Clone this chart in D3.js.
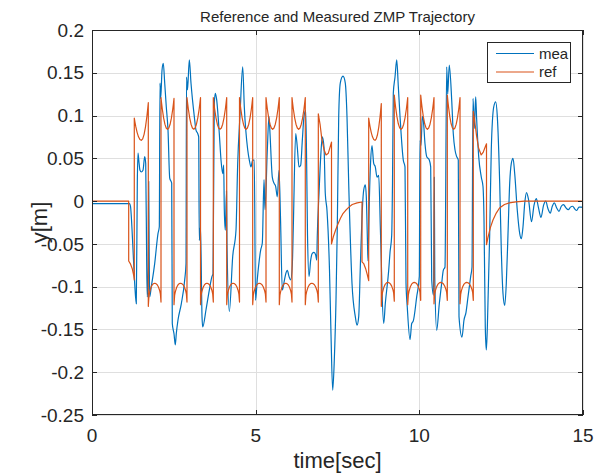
<!DOCTYPE html>
<html>
<head>
<meta charset="utf-8">
<script src="https://cdn.jsdelivr.net/npm/d3@7"></script>
<style>
  body { margin: 0; background: #fff; }
  text { font-family: "Liberation Sans", Arial, Helvetica, sans-serif; fill: #262626; }
</style>
</head>
<body>
<svg id="chart" width="607" height="475"></svg>
<script>
// ---- axis ticks ----
const xTicks = [0, 5, 10, 15];
const xTickLabels = ["0", "5", "10", "15"];
const yTicks = [-0.25, -0.2, -0.15, -0.1, -0.05, 0, 0.05, 0.1, 0.15, 0.2];
const yTickLabels = ["-0.25", "-0.2", "-0.15", "-0.1", "-0.05", "0", "0.05", "0.1", "0.15", "0.2"];

// ---- reference ZMP ----
// standing still before the first walk
const refStart = [[0, 0], [1.121, 0]];
// shift onto the first support foot
const refLead1 = [[1.121, -0.070], [1.17, -0.073], [1.23, -0.079], [1.275, -0.087], [1.292, -0.092]];
// single-support steps: [tStart, tEnd, yStart, yMid, yEnd, kind]  (U = left foot dip, A = right foot arch)
const refWalk1 = [
  [1.292, 1.720, 0.097, 0.071, 0.115, "U"],
  [1.720, 2.108, -0.123, -0.096, -0.118, "A"],
  [2.108, 2.505, 0.121, 0.084, 0.120, "U"],
  [2.505, 2.902, -0.121, -0.096, -0.118, "A"],
  [2.902, 3.315, 0.121, 0.084, 0.121, "U"],
  [3.315, 3.706, -0.121, -0.096, -0.118, "A"],
  [3.706, 4.115, 0.121, 0.084, 0.121, "U"],
  [4.115, 4.506, -0.121, -0.096, -0.118, "A"],
  [4.506, 4.909, 0.121, 0.084, 0.121, "U"],
  [4.909, 5.316, -0.121, -0.096, -0.118, "A"],
  [5.316, 5.722, 0.121, 0.084, 0.121, "U"],
  [5.722, 6.110, -0.121, -0.096, -0.118, "A"],
  [6.110, 6.516, 0.121, 0.084, 0.121, "U"],
  [6.516, 6.914, -0.121, -0.096, -0.118, "A"]
];
const refHalf1 = [[6.914, 0.102], [6.97, 0.089], [7.02, 0.073], [7.09, 0.060], [7.15, 0.054], [7.22, 0.056], [7.317, 0.069]];
const refDecay1 = [[7.317, -0.050], [7.37, -0.042], [7.44, -0.034], [7.51, -0.027], [7.59, -0.020], [7.66, -0.015],
                   [7.745, -0.011], [7.85, -0.007], [7.95, -0.004], [8.1, -0.002], [8.249, -0.001]];
const refLead2 = [[8.249, -0.071], [8.30, -0.073], [8.36, -0.079], [8.41, -0.086], [8.453, -0.093]];
const refWalk2 = [
  [8.453, 8.838, 0.097, 0.071, 0.114, "U"],
  [8.838, 9.235, -0.123, -0.095, -0.117, "A"],
  [9.235, 9.645, 0.124, 0.084, 0.121, "U"],
  [9.645, 10.042, -0.121, -0.095, -0.116, "A"],
  [10.042, 10.448, 0.124, 0.084, 0.121, "U"],
  [10.448, 10.855, -0.120, -0.095, -0.116, "A"],
  [10.855, 11.243, 0.124, 0.084, 0.121, "U"],
  [11.243, 11.649, -0.120, -0.095, -0.116, "A"]
];
const refHalf2 = [[11.649, 0.105], [11.70, 0.091], [11.75, 0.076], [11.81, 0.062], [11.89, 0.054], [11.95, 0.057], [12.0, 0.062], [12.052, 0.067]];
const refDecay2 = [[12.052, -0.051], [12.10, -0.042], [12.17, -0.031], [12.25, -0.022], [12.35, -0.014], [12.45, -0.008],
                   [12.6, -0.004], [12.75, -0.002], [12.95, -0.001], [13.2, 0], [15, 0]];
// profile of one support phase: time fraction and how far the value sits from its mid point
const stepFrac    = [0, 0.05, 0.1, 0.2, 0.3, 0.4, 0.5, 0.6, 0.7, 0.8, 0.9, 0.95, 1];
const uWeight     = [1, 0.81, 0.64, 0.36, 0.16, 0.04, 0, 0.04, 0.16, 0.36, 0.64, 0.81, 1];
const archWeight  = [1, 0.56, 0.40, 0.20, 0.08, 0.02, 0, 0.02, 0.08, 0.20, 0.40, 0.56, 1];

// ---- measured ZMP [time s, y m] ----
const mea = [
  [0.000,-0.003],[1.146,-0.003],[1.176,-0.006],[1.201,-0.018],[1.253,-0.057],[1.304,-0.096],[1.353,-0.120],
  [1.384,0.021],[1.405,0.056],[1.436,0.045],[1.466,0.036],[1.506,0.034],[1.558,0.036],[1.610,0.052],[1.641,0.044],
  [1.671,-0.073],[1.689,-0.112],[1.717,-0.080],[1.732,0.023],[1.747,-0.060],[1.763,-0.112],[1.812,-0.100],
  [1.915,-0.073],[2.016,-0.038],[2.056,-0.030],[2.077,0.138],[2.099,0.120],[2.139,0.153],[2.178,0.161],
  [2.221,0.138],[2.270,0.110],[2.322,0.083],[2.374,0.027],[2.435,0.021],[2.453,-0.143],[2.505,-0.155],
  [2.545,-0.168],[2.575,-0.155],[2.627,-0.139],[2.728,-0.120],[2.832,-0.092],[2.872,-0.073],[2.887,0.145],
  [2.917,0.130],[2.973,0.165],[3.024,0.138],[3.125,0.099],[3.177,0.083],[3.229,0.079],[3.259,0.075],
  [3.278,-0.046],[3.315,-0.030],[3.361,-0.135],[3.382,-0.147],[3.483,-0.127],[3.584,-0.104],[3.666,-0.088],
  [3.697,-0.085],[3.736,0.114],[3.767,0.126],[3.803,0.120],[3.889,0.079],[3.941,0.048],[3.993,0.032],
  [4.023,0.042],[4.042,-0.010],[4.072,-0.034],[4.109,0.012],[4.124,-0.050],[4.195,-0.129],[4.298,-0.065],
  [4.399,-0.034],[4.451,0.044],[4.521,0.100],[4.604,0.157],[4.653,0.110],[4.757,0.060],[4.806,0.048],
  [4.857,0.040],[4.909,0.048],[4.958,0.048],[4.995,-0.116],[5.048,-0.092],[5.154,-0.057],[5.203,-0.049],
  [5.255,0.025],[5.285,-0.010],[5.356,0.060],[5.407,0.099],[5.438,0.079],[5.508,0.028],[5.560,0.021],
  [5.612,0.017],[5.661,0.005],[5.713,0.036],[5.759,-0.020],[5.814,-0.104],[5.866,-0.095],[5.918,-0.085],
  [5.967,-0.081],[6.018,-0.088],[6.070,-0.092],[6.119,-0.075],[6.150,-0.030],[6.223,0.079],[6.272,0.063],
  [6.324,0.040],[6.376,0.042],[6.425,0.071],[6.477,0.099],[6.529,0.106],[6.559,0.040],[6.584,-0.040],
  [6.630,-0.088],[6.681,-0.069],[6.730,-0.061],[6.782,-0.060],[6.834,-0.063],[6.865,-0.069],[6.883,-0.040],
  [6.935,0.009],[6.987,0.052],[7.036,0.075],[7.088,0.063],[7.127,0.009],[7.179,-0.011],[7.255,-0.080],
  [7.301,-0.155],[7.353,-0.221],[7.402,-0.186],[7.454,-0.116],[7.494,-0.030],[7.537,0.099],[7.585,0.138],
  [7.668,0.146],[7.738,0.138],[7.790,0.099],[7.842,0.021],[7.943,-0.096],[8.044,-0.135],[8.096,-0.145],
  [8.148,-0.135],[8.197,-0.077],[8.249,-0.018],[8.301,0.013],[8.350,0.019],[8.380,0.005],[8.417,-0.050],
  [8.432,-0.070],[8.472,0.000],[8.514,0.048],[8.554,0.065],[8.606,0.044],[8.655,0.040],[8.707,0.028],
  [8.759,0.030],[8.808,-0.030],[8.838,-0.070],[8.860,-0.104],[8.912,-0.143],[8.960,-0.120],[9.064,-0.081],
  [9.104,-0.060],[9.156,-0.040],[9.180,0.020],[9.205,0.126],[9.257,0.145],[9.309,0.165],[9.358,0.134],
  [9.410,0.099],[9.510,0.048],[9.562,0.040],[9.593,-0.096],[9.632,-0.124],[9.715,-0.162],[9.767,-0.143],
  [9.816,-0.140],[9.919,-0.112],[9.999,-0.088],[10.020,0.071],[10.051,0.065],[10.091,0.099],[10.121,0.095],
  [10.173,0.067],[10.225,0.052],[10.304,0.048],[10.347,0.040],[10.378,-0.092],[10.433,-0.110],[10.457,0.028],
  [10.472,-0.090],[10.530,-0.151],[10.610,-0.120],[10.683,-0.096],[10.732,-0.081],[10.784,-0.077],
  [10.836,0.157],[10.866,0.125],[10.915,0.159],[10.989,0.118],[11.037,0.079],[11.089,0.060],[11.141,0.052],
  [11.190,0.048],[11.212,-0.135],[11.303,-0.159],[11.364,-0.139],[11.426,-0.130],[11.487,-0.112],
  [11.569,-0.088],[11.609,-0.077],[11.640,0.120],[11.679,0.085],[11.722,0.122],[11.752,0.095],[11.814,0.052],
  [11.893,0.028],[11.945,0.017],[11.975,-0.020],[12.015,-0.147],[12.046,-0.174],[12.076,-0.150],
  [12.150,-0.038],[12.198,0.060],[12.272,0.110],[12.333,0.116],[12.382,0.099],[12.455,0.021],[12.504,-0.057],
  [12.556,-0.108],[12.608,-0.122],[12.657,-0.096],[12.709,-0.038],[12.761,0.021],[12.810,0.044],[12.862,0.050],
  [12.914,0.032],[12.993,-0.011],[13.067,-0.038],[13.115,-0.044],[13.167,-0.030],[13.219,-0.003],
  [13.274,0.010],[13.335,0.002],[13.427,-0.024],[13.503,-0.005],[13.574,0.003],[13.641,-0.008],
  [13.717,-0.019],[13.794,-0.005],[13.861,0.000],[13.931,-0.009],[14.001,-0.014],[14.062,-0.006],
  [14.123,-0.002],[14.197,-0.008],[14.267,-0.012],[14.337,-0.006],[14.404,-0.004],[14.481,-0.008],
  [14.551,-0.010],[14.618,-0.007],[14.685,-0.006],[14.746,-0.009],[14.807,-0.011],[14.878,-0.007],
  [14.954,-0.007],[15.000,-0.008]
];

const seriesNames = ["mea", "ref"];
const seriesColors = ["#0072BD", "#D95319"];

// ---- assemble the reference path ----
function stepPoints(step) {
  const [t0, t1, ys, ym, ye, kind] = step;
  const w = kind === "U" ? uWeight : archWeight;
  return stepFrac.map((f, i) => [t0 + f * (t1 - t0), ym + (f <= 0.5 ? ys - ym : ye - ym) * w[i]]);
}
const ref = [].concat(
  refStart, refLead1,
  ...refWalk1.map(stepPoints),
  refHalf1, refDecay1, refLead2,
  ...refWalk2.map(stepPoints),
  refHalf2, refDecay2
);

// ---- layout ----
const svg = d3.select("#chart");
const plotLeft = 92, plotRight = 583, plotTop = 30, plotBottom = 415;
const x = d3.scaleLinear().domain([0, 15]).range([plotLeft, plotRight]);
const y = d3.scaleLinear().domain([-0.25, 0.2]).range([plotBottom, plotTop]);
const px = v => Math.round(v) + 0.5;
const axisColor = "#262626";

svg.append("rect").attr("width", 607).attr("height", 475).attr("fill", "#fff");

// grid
const grid = svg.append("g").attr("stroke", "#dfdfdf").attr("stroke-width", 1);
xTicks.forEach(t => grid.append("line")
  .attr("x1", px(x(t))).attr("x2", px(x(t))).attr("y1", plotTop).attr("y2", plotBottom));
yTicks.forEach(t => grid.append("line")
  .attr("x1", plotLeft).attr("x2", plotRight).attr("y1", px(y(t))).attr("y2", px(y(t))));

// data lines
svg.append("defs").append("clipPath").attr("id", "plotClip")
  .append("rect").attr("x", plotLeft).attr("y", plotTop)
  .attr("width", plotRight - plotLeft).attr("height", plotBottom - plotTop);
const plot = svg.append("g").attr("clip-path", "url(#plotClip)");

const meaLine = d3.line().x(d => x(d[0])).y(d => y(d[1])).curve(d3.curveMonotoneX);
const refLine = d3.line().x(d => x(d[0])).y(d => y(d[1]));

plot.append("path").datum(mea).attr("d", meaLine)
  .attr("fill", "none").attr("stroke", seriesColors[0]).attr("stroke-width", 1.2).attr("stroke-linejoin", "round");
plot.append("path").datum(ref).attr("d", refLine)
  .attr("fill", "none").attr("stroke", seriesColors[1]).attr("stroke-width", 1.2).attr("stroke-linejoin", "round");

// axes box with inward ticks on every side
const tickLen = 5;
const axisG = svg.append("g").attr("stroke", axisColor).attr("stroke-width", 1).attr("fill", "none");
axisG.append("rect").attr("x", plotLeft + 0.5).attr("y", plotTop + 0.5)
  .attr("width", plotRight - plotLeft - 1).attr("height", plotBottom - plotTop - 1);
xTicks.forEach(t => {
  const xx = px(x(t));
  axisG.append("line").attr("x1", xx).attr("x2", xx).attr("y1", plotBottom).attr("y2", plotBottom - tickLen);
  axisG.append("line").attr("x1", xx).attr("x2", xx).attr("y1", plotTop).attr("y2", plotTop + tickLen);
});
yTicks.forEach(t => {
  const yy = px(y(t));
  axisG.append("line").attr("x1", plotLeft).attr("x2", plotLeft + tickLen).attr("y1", yy).attr("y2", yy);
  axisG.append("line").attr("x1", plotRight).attr("x2", plotRight - tickLen).attr("y1", yy).attr("y2", yy);
});

// tick labels
xTicks.forEach((t, i) => svg.append("text")
  .attr("x", x(t)).attr("y", 442).attr("text-anchor", "middle")
  .attr("font-size", 19).text(xTickLabels[i]));
yTicks.forEach((t, i) => svg.append("text")
  .attr("x", 84).attr("y", y(t)).attr("dy", "0.35em").attr("text-anchor", "end")
  .attr("font-size", 19).text(yTickLabels[i]));

// titles
svg.append("text").attr("x", (plotLeft + plotRight) / 2).attr("y", 22).attr("text-anchor", "middle")
  .attr("font-size", 15).text("Reference and Measured ZMP Trajectory");
svg.append("text").attr("x", (plotLeft + plotRight) / 2).attr("y", 460).attr("dy", "0.35em")
  .attr("text-anchor", "middle").attr("font-size", 22).text("time[sec]");
svg.append("text").attr("transform", `translate(39,${(plotTop + plotBottom) / 2}) rotate(-90)`)
  .attr("dy", "0.35em").attr("text-anchor", "middle").attr("font-size", 22).text("y[m]");

// legend
const lg = svg.append("g");
lg.append("rect").attr("x", 487.5).attr("y", 42.5).attr("width", 83).attr("height", 40)
  .attr("fill", "#fff").attr("stroke", axisColor).attr("stroke-width", 1);
seriesNames.forEach((name, i) => {
  const yy = 53.5 + i * 18.5;
  lg.append("line").attr("x1", 496).attr("x2", 534).attr("y1", yy).attr("y2", yy)
    .attr("stroke", seriesColors[i]).attr("stroke-width", 1.2);
  lg.append("text").attr("x", 539).attr("y", yy).attr("dy", "0.35em")
    .attr("font-size", 15).text(name);
});
</script>
</body>
</html>
